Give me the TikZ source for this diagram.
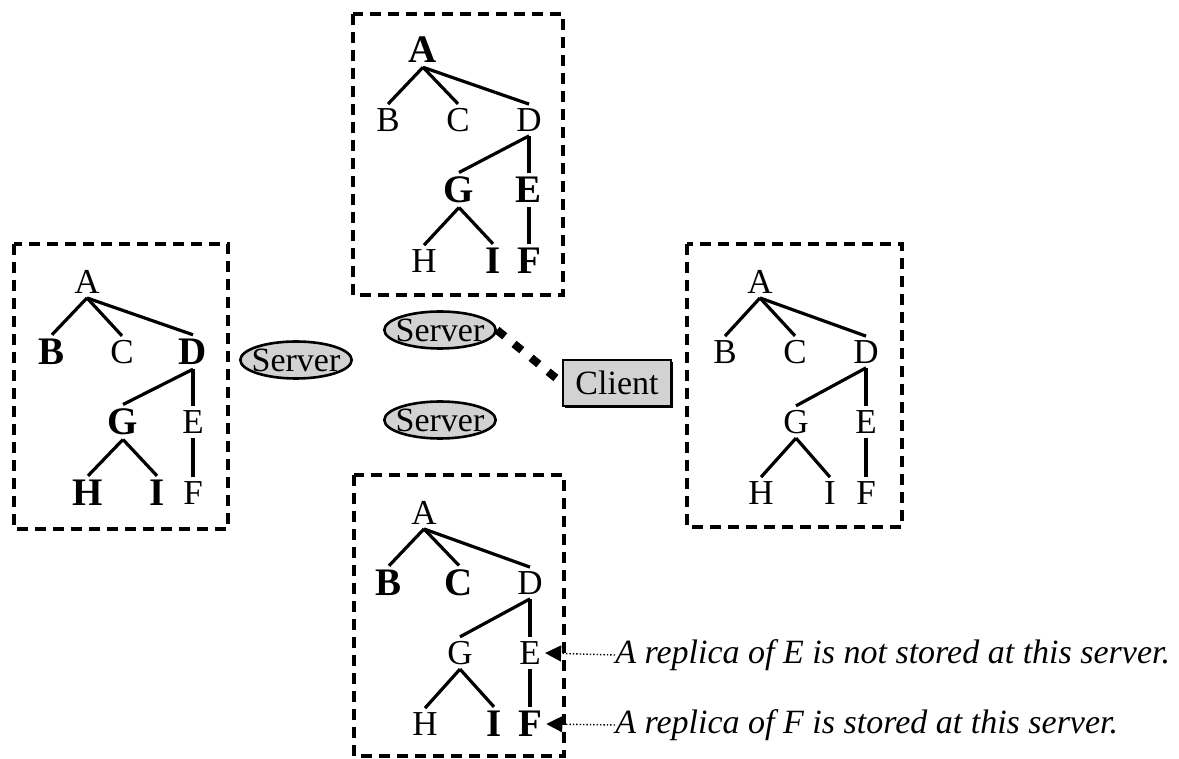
\documentclass[tikz,border=0pt]{standalone}
\usepackage{fontspec}
\setmainfont{Liberation Serif}
\usetikzlibrary{shapes.geometric,arrows.meta,shadows}

\tikzset{
	letter/.style = {inner sep=2pt, font=\fontsize{17.5}{20}\selectfont},
	held/.style = {font=\fontsize{19.5}{24}\selectfont\bfseries},
	nA/.style = {}, nB/.style = {}, nC/.style = {}, nD/.style = {}, nE/.style = {},
	nF/.style = {}, nG/.style = {}, nH/.style = {}, nI/.style = {},
	edge/.style = {line width=1.6pt},
	frame/.style = {line width=1.6pt, dash pattern=on 5.5pt off 3.5pt},
	server/.style = {ellipse, draw, line width=1.3pt, fill=gray!35, inner xsep=-2.5pt,
		inner ysep=0pt, minimum height=18.5pt, font=\fontsize{17}{20}\selectfont},
	client/.style = {rectangle, draw, line width=1pt, fill=gray!35, inner sep=0pt,
		minimum width=54pt, minimum height=23pt, font=\fontsize{17}{20}\selectfont,
		drop shadow={shadow xshift=1.2pt, shadow yshift=-1.2pt, fill=black, opacity=1}},
	link/.style = {line width=4pt, dash pattern=on 5pt off 6pt},
	pointer/.style = {densely dotted, line width=0.7pt, -{Triangle[length=8pt,width=8pt]}},
	note/.style = {anchor=west, inner sep=0pt, font=\fontsize{17}{20}\selectfont\itshape}
}

% one copy of the directory tree, names prefixed by #1
\newcommand{\replicatree}[1]{%
	\node[letter,nA] (#1A) at (0,0) {A};
	\node[letter,nB] (#1B) at (-35,70) {B};
	\node[letter,nC] (#1C) at (35,70) {C};
	\node[letter,nD] (#1D) at (106,70) {D};
	\node[letter,nG] (#1G) at (36,140) {G};
	\node[letter,nE] (#1E) at (106,140) {E};
	\node[letter,nH] (#1H) at (1,211) {H};
	\node[letter,nI] (#1I) at (70,211) {I};
	\node[letter,nF] (#1F) at (106,211) {F};
	\foreach \p/\c in {A/B,A/C,A/D,D/G,D/E,G/H,G/I,E/F}
		\draw[edge] (#1\p.south) -- (#1\c.north);
}

\begin{document}
\begin{tikzpicture}[x=0.5pt, y=-0.5pt]
	\useasboundingbox (0,0) rectangle (1179,759);

	% top replica
	\draw[frame] (353,14) rectangle (563,295);
	\begin{scope}[shift={(423,50)}, nA/.style=held, nG/.style=held, nE/.style=held,
		nI/.style=held, nF/.style=held]
		\replicatree{t}
	\end{scope}

	% left replica
	\draw[frame] (14,244) rectangle (228,529);
	\begin{scope}[shift={(87,282)}, nB/.style=held, nD/.style=held, nG/.style=held,
		nH/.style=held, nI/.style=held]
		\replicatree{l}
	\end{scope}

	% right replica
	\draw[frame] (687,244) rectangle (902,527);
	\begin{scope}[shift={(760,282)}]
		\replicatree{r}
	\end{scope}

	% bottom replica
	\draw[frame] (354,475) rectangle (564,756);
	\begin{scope}[shift={(424,513)}, nB/.style=held, nC/.style=held, nI/.style=held,
		nF/.style=held]
		\replicatree{b}
	\end{scope}

	% servers and client
	\node[server] (srvW) at (296,360) {Server};
	\node[server] (srvN) at (440,330) {Server};
	\node[server] (srvS) at (440,420) {Server};
	\node[client] (cl) at (617,383) {Client};
	\draw[link] (srvN.east) -- (cl.west);

	% notes
	\node[note] (noteE) at (615,655) {A replica of E is not stored at this server.};
	\node[note] (noteF) at (615,725) {A replica of F is stored at this server.};
	\draw[pointer] (noteE.west) -- (bE.east);
	\draw[pointer] (noteF.west) -- (bF.east);
\end{tikzpicture}
\end{document}
